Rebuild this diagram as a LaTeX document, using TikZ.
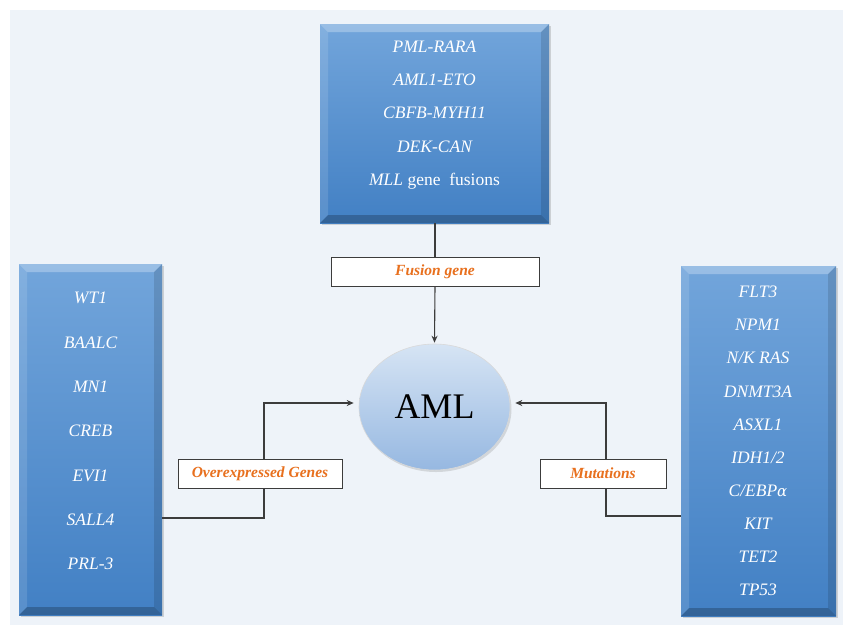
\documentclass[tikz,border=0pt]{standalone}
\usepackage{fontspec}
\setmainfont{Liberation Serif}
\usetikzlibrary{shapes.geometric,shadows,arrows.meta}
\definecolor{bgc}{RGB}{238,243,249}
\definecolor{boxtop}{RGB}{114,165,219}
\definecolor{boxbot}{RGB}{66,128,196}
\definecolor{lblorange}{RGB}{232,112,30}
\definecolor{linec}{RGB}{60,60,60}
\definecolor{elltop}{RGB}{214,228,244}
\definecolor{ellbot}{RGB}{150,184,225}
\tikzset{
  bevelbox/.style={rectangle, inner sep=0pt, top color=boxtop, bottom color=boxbot,
    drop shadow={opacity=0.3,shadow xshift=2pt,shadow yshift=-2pt},
    path picture={
      \coordinate (nw) at (path picture bounding box.north west);
      \coordinate (ne) at (path picture bounding box.north east);
      \coordinate (sw) at (path picture bounding box.south west);
      \coordinate (se) at (path picture bounding box.south east);
      \fill[white,opacity=0.28] (nw) -- (ne) -- ([shift={(-8pt,-8pt)}]ne) -- ([shift={(8pt,-8pt)}]nw) -- cycle;
      \fill[white,opacity=0.12] (nw) -- ([shift={(8pt,-8pt)}]nw) -- ([shift={(8pt,8pt)}]sw) -- (sw) -- cycle;
      \fill[black,opacity=0.12] (ne) -- ([shift={(-8pt,-8pt)}]ne) -- ([shift={(-8pt,8pt)}]se) -- (se) -- cycle;
      \fill[black,opacity=0.22] (sw) -- ([shift={(8pt,8pt)}]sw) -- ([shift={(-8pt,8pt)}]se) -- (se) -- cycle;
    }},
  boxtext/.style={text=white, align=center, inner sep=0pt},
  lbl/.style={rectangle, draw=linec, line width=0.9pt, fill=white, minimum height=29pt,
    inner sep=0pt, text=lblorange, font=\fontsize{15.5}{18}\selectfont\bfseries\itshape},
  conn/.style={draw=linec, line width=1.1pt},
  arr/.style={conn, -{Stealth[length=7pt,width=6pt]}},
}
\begin{document}
\begin{tikzpicture}[x=1pt,y=1pt]
\useasboundingbox (0,0) rectangle (843,-625);
\fill[bgc] (10,-10) rectangle (843,-625);

% main boxes
\node[bevelbox, minimum width=229pt, minimum height=199pt] (top) at (434.5,-123.5) {};
\node[boxtext, font=\fontsize{17.5}{33.2}\selectfont\itshape] (toptext) at (434.5,-115) {%
PML-RARA\\AML1-ETO\\CBFB-MYH11\\DEK-CAN\\MLL {\upshape gene\ \ fusions}};

\node[bevelbox, minimum width=143pt, minimum height=351pt] (left) at (90.5,-439.5) {};
\node[boxtext, font=\fontsize{17.5}{44.3}\selectfont\itshape] (lefttext) at (90.5,-431) {%
WT1\\BAALC\\MN1\\CREB\\EVI1\\SALL4\\PRL-3};

\node[bevelbox, minimum width=155pt, minimum height=350pt] (right) at (758.5,-441) {};
\node[boxtext, font=\fontsize{17.5}{33.1}\selectfont\itshape] (righttext) at (758,-441) {%
FLT3\\NPM1\\N/K RAS\\DNMT3A\\ASXL1\\IDH1/2\\C/EBP{\fontspec{DejaVu Serif}\itshape\fontsize{15}{33.1}\selectfont α}\\KIT\\TET2\\TP53};

% AML
\node[ellipse, minimum width=151pt, minimum height=126pt, inner sep=0pt,
  top color=elltop, bottom color=ellbot, draw=white!70!gray, line width=0.6pt,
  drop shadow={opacity=0.25,shadow xshift=1.5pt,shadow yshift=-2pt},
  font=\fontsize{36}{40}\selectfont] (aml) at (434.5,-407) {AML};

% labels
\node[lbl, minimum width=208pt] (fusion) at (435,-271.5) {Fusion gene};
\node[lbl, minimum width=164pt] (over) at (260,-473.5) {Overexpressed Genes};
\node[lbl, minimum width=126pt] (mut) at (603,-473.5) {Mutations};

% connectors
\draw[conn] (top.south -| fusion.north) -- (fusion.north);
\draw[arr] (fusion.south) -- ([yshift=1pt]aml.north);
\draw[conn] ([yshift=-78.5pt]left.east) -| ([xshift=4pt]over.south);
\draw[arr] ([xshift=4pt]over.north) |- ([xshift=-5pt,yshift=4pt]aml.west);
\draw[conn] ([yshift=-75pt]right.west) -| ([xshift=3pt]mut.south);
\draw[arr] ([xshift=3pt]mut.north) |- ([xshift=5pt,yshift=4pt]aml.east);
\end{tikzpicture}
\end{document}
